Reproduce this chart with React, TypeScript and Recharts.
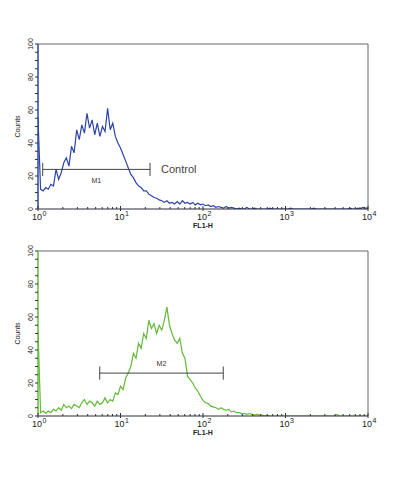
import React from 'react';
import { LineChart, Line, XAxis, YAxis, ReferenceLine } from 'recharts';

// FL1-H channels (256 channels per decade, 10^0 .. 10^4)
const CHANNELS = [
  0, 8, 16, 24, 32, 40, 48, 56, 64, 72, 80, 88, 96, 104, 112, 120,
  128, 136, 144, 152, 160, 168, 176, 184, 192, 200, 208, 216, 224, 232, 240, 248,
  256, 264, 272, 280, 288, 296, 304, 312, 320, 328, 336, 344, 352, 360, 368, 376,
  384, 392, 400, 408, 416, 424, 432, 440, 448, 456, 464, 472, 480, 488, 496, 504,
  512, 520, 528, 536, 544, 552, 560, 568, 576, 584, 592, 600, 608, 616, 624, 632,
  640, 648, 656, 664, 672, 680, 688, 696, 704, 712, 720, 728, 736, 744, 752, 760,
  768, 776, 784, 792, 800, 808, 816, 824, 832, 840, 848, 856, 864, 872, 880, 888,
  896, 904, 912, 920, 928, 936, 944, 952, 960, 968, 976, 984, 992, 1000, 1008, 1016,
  1024,
];

const CONTROL_COUNTS = [
  55, 12, 11, 13, 12, 15, 14, 24, 18, 22, 28, 31, 26, 38, 34, 48,
  42, 51, 46, 58, 49, 54, 45, 52, 44, 50, 47, 61, 48, 52, 44, 40,
  37, 33, 29, 25, 21, 19, 16, 14, 13, 11, 11, 9, 8, 7, 6.5, 5.5,
  5, 4, 5, 3.5, 4, 3, 4.5, 3, 5, 3.5, 4, 3, 4, 2.5, 3.5, 2.5,
  3, 2, 2.5, 1.5, 2, 1, 1.5, 1, 0.5, 1.5, 0.5, 1, 0.5, 0, 0.5, 0,
  0, 1, 0, 0, 0.5, 0, 0, 0, 0, 0, 0.5, 0, 0, 0, 0, 0,
  0, 0, 0.5, 0, 0, 0, 0, 0, 0, 0, 0, 0.5, 0, 0, 0, 0,
  0, 0, 0, 0, 0, 0, 0, 0, 0, 0.5, 0, 0, 0.5, 0, 1, 0.5,
  0.5,
];

const SAMPLE_COUNTS = [
  52, 2, 3, 1.5, 3, 2, 4, 3, 5, 3.5, 7, 5, 6, 4.5, 7, 6,
  5, 8, 10, 7, 9, 8, 6, 9, 7, 8, 11, 8, 10, 9, 14, 13,
  18, 16, 23, 26, 30, 38, 35, 44, 41, 50, 47, 58, 53, 56, 50, 55,
  52, 58, 66, 55, 50, 46, 44, 47, 38, 35, 24, 22, 20, 17, 15, 12,
  9.5, 8, 7.5, 6, 5.5, 5, 4, 5, 4, 3.5, 4, 2.5, 3, 2, 2, 1.5,
  1.5, 1, 1.5, 1, 0.5, 1, 0.5, 0.5, 0, 0.5, 0, 0, 0, 0, 0, 0,
  0, 0, 0, 0, 0, 0, 0, 0, 0, 0, 0, 0, 0, 0, 0, 0,
  0, 0, 0, 0, 1, 0, 0, 0, 0, 0, 0, 0, 0, 0, 0, 0,
  0,
];

const DECADE_LABELS = ['0', '1', '2', '3', '4'];
const MINOR_MULTIPLIERS = [2, 3, 4, 5, 6, 7, 8, 9];
const COUNT_TICKS = [0, 5, 10, 15, 20, 25, 30, 35, 40, 45, 50, 55, 60, 65, 70, 75, 80, 85, 90, 95, 100];
const COUNT_LABELS = [0, 20, 40, 60, 80, 100];

const M1_RANGE = [1.14, 22.8];
const M1_LEVEL = 24;
const M2_RANGE = [5.6, 176];
const M2_LEVEL = 26;

const CHANNELS_PER_DECADE = 256;
const FONT = '"Liberation Sans", Arial, sans-serif';
const BLUE = '#2d44a6';
const GREEN = '#63b93a';

const toChannel = (v: number) => CHANNELS_PER_DECADE * Math.log10(v);

const majorTicks = DECADE_LABELS.map((_, d) => d * CHANNELS_PER_DECADE);
const minorTicks: number[] = [];
DECADE_LABELS.slice(0, -1).forEach((_, d) => {
  MINOR_MULTIPLIERS.forEach((m) => minorTicks.push(CHANNELS_PER_DECADE * (d + Math.log10(m))));
});
const X_TICKS = [...majorTicks, ...minorTicks].sort((a, b) => a - b);

const controlData = CHANNELS.map((c, i) => ({ channel: c, count: CONTROL_COUNTS[i] }));
const sampleData = CHANNELS.map((c, i) => ({ channel: c, count: SAMPLE_COUNTS[i] }));

const XTick = (props: any) => {
  const { x, y, payload } = props;
  const decade = payload.value / CHANNELS_PER_DECADE;
  const idx = Math.round(decade);
  const isMajor = Math.abs(decade - idx) < 1e-6;
  if (!isMajor) {
    return <line x1={x} x2={x} y1={y - 2} y2={y} stroke="#333" strokeWidth={1} />;
  }
  return (
    <g>
      <line x1={x} x2={x} y1={y - 3} y2={y + 2} stroke="#333" strokeWidth={1} />
      <text x={x - 1} y={y + 11} textAnchor="middle" fontSize={9} fill="#222" fontFamily={FONT}>
        10
      </text>
      <text x={x + 4.5} y={y + 6.5} textAnchor="start" fontSize={7} fill="#222" fontFamily={FONT}>
        {DECADE_LABELS[idx]}
      </text>
    </g>
  );
};

const YTick = (props: any) => {
  const { x, y, payload } = props;
  const v = payload.value;
  const showLabel = COUNT_LABELS.includes(v);
  return (
    <g>
      <line x1={x - 3} x2={x} y1={y} y2={y} stroke="#333" strokeWidth={1} />
      {showLabel && (
        <text
          x={x - 8}
          y={y}
          transform={`rotate(-90 ${x - 8} ${y})`}
          textAnchor="middle"
          dominantBaseline="central"
          fontSize={7}
          fill="#222"
          fontFamily={FONT}
        >
          {v}
        </text>
      )}
    </g>
  );
};

const CountsLabel = (props: any) => {
  const vb = props.viewBox || {};
  const cx = vb.x + 9.5;
  const cy = vb.y + vb.height / 2;
  return (
    <text
      x={cx}
      y={cy}
      transform={`rotate(-90 ${cx} ${cy})`}
      textAnchor="middle"
      dominantBaseline="central"
      fontSize={7}
      fill="#222"
      fontFamily={FONT}
    >
      Counts
    </text>
  );
};

const FLLabel = (props: any) => {
  const vb = props.viewBox || {};
  return (
    <text
      x={vb.x + vb.width / 2}
      y={vb.y + 18.5}
      textAnchor="middle"
      fontSize={7}
      fontWeight="bold"
      fill="#222"
      fontFamily={FONT}
    >
      FL1-H
    </text>
  );
};

type PanelProps = {
  data: { channel: number; count: number }[];
  color: string;
  height: number;
  margin: { top: number; right: number; bottom: number; left: number };
  range: number[];
  level: number;
  markerLabel: string;
  markerLabelPos: 'top' | 'bottom';
  markerLabelOffset: number;
  sideText?: string;
};

const Panel = ({ data, color, height, margin, range, level, markerLabel, markerLabelPos, markerLabelOffset, sideText }: PanelProps) => {
  const start = toChannel(range[0]);
  const end = toChannel(range[1]);
  return (
    <LineChart width={394} height={height} data={data} margin={margin}>
      <XAxis
        dataKey="channel"
        type="number"
        domain={[0, 1024]}
        ticks={X_TICKS}
        interval={0}
        tickSize={0}
        tickMargin={0}
        tickLine={false}
        tick={<XTick />}
        axisLine={{ stroke: '#2a2a3a', strokeWidth: 1 }}
        height={30}
        allowDataOverflow
        label={(p: any) => <FLLabel {...p} />}
      />
      <YAxis
        type="number"
        domain={[0, 100]}
        ticks={COUNT_TICKS}
        interval={0}
        tickSize={0}
        tickMargin={0}
        tickLine={false}
        tick={<YTick />}
        axisLine={{ stroke: color, strokeWidth: 1.5 }}
        width={30}
        allowDataOverflow
        label={(p: any) => <CountsLabel {...p} />}
      />
      <ReferenceLine y={100} stroke="#666" strokeWidth={1} />
      <ReferenceLine x={1024} stroke="#666" strokeWidth={1} />
      <Line
        type="linear"
        dataKey="count"
        stroke={color}
        strokeWidth={1.2}
        dot={false}
        isAnimationActive={false}
      />
      <ReferenceLine
        segment={[{ x: start, y: level }, { x: end, y: level }]}
        stroke="#444"
        strokeWidth={1}
        label={{ value: markerLabel, position: markerLabelPos, offset: markerLabelOffset, fontSize: 7, fill: '#333', fontFamily: FONT }}
      />
      <ReferenceLine segment={[{ x: start, y: level - 4 }, { x: start, y: level + 4 }]} stroke="#444" strokeWidth={1} />
      <ReferenceLine
        segment={[{ x: end, y: level - 4 }, { x: end, y: level + 4 }]}
        stroke="#444"
        strokeWidth={1}
        label={sideText ? { value: sideText, position: 'right', offset: 11, fontSize: 11, fill: '#444', fontFamily: FONT } : undefined}
      />
    </LineChart>
  );
};

export default function App() {
  return (
    <div style={{ position: 'absolute', left: 0, top: 0, width: 394, height: 500, background: '#fff' }}>
      <Panel
        data={controlData}
        color={BLUE}
        height={240}
        margin={{ top: 44, right: 26, bottom: 1, left: 8 }}
        range={M1_RANGE}
        level={M1_LEVEL}
        markerLabel="M1"
        markerLabelPos="bottom"
        markerLabelOffset={9}
        sideText="Control"
      />
      <Panel
        data={sampleData}
        color={GREEN}
        height={260}
        margin={{ top: 11, right: 26, bottom: 54, left: 8 }}
        range={M2_RANGE}
        level={M2_LEVEL}
        markerLabel="M2"
        markerLabelPos="top"
        markerLabelOffset={7}
      />
    </div>
  );
}
